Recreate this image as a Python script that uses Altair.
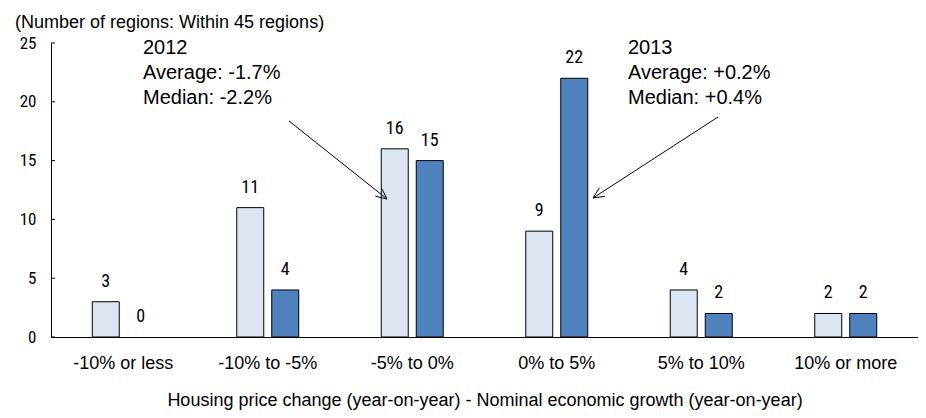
import math
import altair as alt
import pandas as pd

categories = ["-10% or less", "-10% to -5%", "-5% to 0%", "0% to 5%", "5% to 10%", "10% or more"]
values_2012 = [3, 11, 16, 9, 4, 2]
values_2013 = [0, 4, 15, 22, 2, 2]
years = ["2012", "2013"]
y_ticks = [0, 5, 10, 15, 20, 25]

note_2012 = ["2012", "Average: -1.7%", "Median: -2.2%"]
note_2013 = ["2013", "Average: +0.2%", "Median: +0.4%"]
top_title = "(Number of regions: Within 45 regions)"
x_title = "Housing price change (year-on-year) - Nominal economic growth (year-on-year)"

rows = []
for c, a, b in zip(categories, values_2012, values_2013):
    rows.append({"cat": c, "year": "2012", "n": a})
    rows.append({"cat": c, "year": "2013", "n": b})
df = pd.DataFrame(rows)

W, H = 867, 294
NARROW = "'Liberation Sans Narrow', 'Arial Narrow', 'Roboto Condensed', 'DejaVu Sans Condensed', 'Liberation Sans', sans-serif"
SANS = "'Liberation Sans', Arial, sans-serif"

x_enc = alt.X("cat:N", sort=categories,
              scale=alt.Scale(paddingInner=0.571, paddingOuter=0.2855),
              axis=alt.Axis(title=x_title, labelAngle=0, ticks=False, labelPadding=17,
                            labelFont=SANS, labelFontSize=18, labelColor="black",
                            domainColor="black", titleFont=SANS, titleFontSize=18,
                            titleFontWeight="normal", titleColor="black", titlePadding=19))
xo_enc = alt.XOffset("year:N", sort=years, scale=alt.Scale(paddingInner=0.229, paddingOuter=0))
y_enc = alt.Y("n:Q", scale=alt.Scale(domain=[0, 25], nice=False),
              axis=alt.Axis(title=None, values=y_ticks, ticks=False, grid=False, labelPadding=15,
                            labelFont=NARROW, labelFontSize=17, labelColor="black",
                            domainColor="black"))

bars = alt.Chart(df).transform_filter("datum.n > 0").mark_bar(stroke="black", strokeWidth=1).encode(
    x=x_enc, xOffset=xo_enc, y=y_enc,
    color=alt.Color("year:N", scale=alt.Scale(domain=years, range=["#DCE6F2", "#4F81BD"]), legend=None),
)

labels = alt.Chart(df).mark_text(font=NARROW, fontSize=18, baseline="alphabetic", dy=-15, color="black").encode(
    x=alt.X("cat:N", sort=categories), xOffset=alt.XOffset("year:N", sort=years), y="n:Q", text="n:Q"
)

tick_df = pd.DataFrame({"t": y_ticks})
yticks = alt.Chart(tick_df).mark_rule(color="black", strokeWidth=1).encode(
    y="t:Q", x=alt.value(0), x2=alt.value(4)
)

def text_at(txt, x, y, size, font=SANS, line_height=None):
    kw = dict(align="left", baseline="middle", font=font, fontSize=size, color="black")
    if line_height:
        kw["lineHeight"] = line_height
        kw["baseline"] = "top"
    return alt.Chart(pd.DataFrame({"a": [0]})).mark_text(**kw).encode(
        x=alt.value(x), y=alt.value(y), text=alt.value(txt))

title_mark = text_at(top_title, -36, -20, 18)
n12 = text_at(note_2012, 92, -5, 20, line_height=25)
n13 = text_at(note_2013, 577, -5, 20, line_height=25)

def arrow(x1, y1, x2, y2, head=12, ang=25):
    segs = [(x1, y1, x2, y2)]
    th = math.atan2(y1 - y2, x1 - x2)
    for s in (-1, 1):
        a = th + s * math.radians(ang)
        segs.append((x2, y2, x2 + head * math.cos(a), y2 + head * math.sin(a)))
    layers = []
    for (a1, b1, a2, b2) in segs:
        layers.append(alt.Chart(pd.DataFrame({"a": [0]})).mark_rule(color="black", strokeWidth=1).encode(
            x=alt.value(a1), y=alt.value(b1), x2=alt.value(a2), y2=alt.value(b2)))
    return layers

arrows = arrow(238, 78, 336, 156) + arrow(667, 74, 542, 155)

chart = alt.layer(bars, labels, yticks, title_mark, n12, n13, *arrows).properties(
    width=W, height=H,
    autosize=alt.AutoSizeParams(type="none"),
    padding={"left": 43, "top": 35, "right": 0, "bottom": 80},
    background="white",
).configure_view(stroke=None)

chart.save("out.html", embed_options={"renderer": "svg", "actions": False})
